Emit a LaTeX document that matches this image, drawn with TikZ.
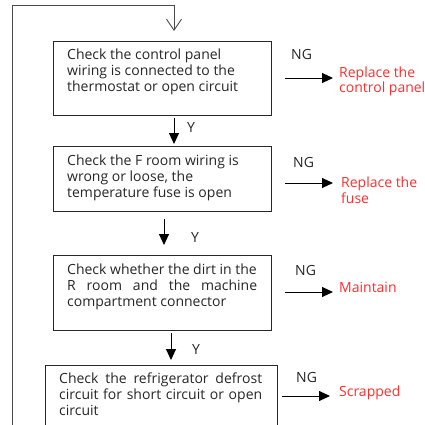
\documentclass[tikz,border=0pt]{standalone}
\usepackage{fontspec}
\setmainfont{Open Sans}
\usetikzlibrary{arrows.meta}
\definecolor{ngred}{RGB}{255,45,45}
\definecolor{ln}{RGB}{40,40,40}
\begin{document}
\begin{tikzpicture}[x=1pt,y=-1pt,
  font=\fontsize{14}{16}\selectfont,
  box/.style={draw=ln,line width=0.9pt,inner sep=0pt,anchor=north west},
  txt/.style={anchor=base west,inner sep=0pt,align=left,text=black!85},
  red/.style={anchor=base west,inner sep=0pt,align=left,text=ngred},
  lab/.style={anchor=base west,inner sep=0pt,text=black!85},
  arr/.style={line width=0.9pt,draw=black,-{Triangle[length=11pt,width=10pt]}},
  loopline/.style={line width=0.9pt,draw=black!70}]
\useasboundingbox (0,0) rectangle (424,425);
\begin{scope}
\clip (0,0) rectangle (424,425);
% boxes
\node[box,minimum width=218pt,minimum height=74pt] (b1) at (53,41) {};
\node[box,minimum width=218pt,minimum height=65pt] (b2) at (53,146) {};
\node[box,minimum width=218pt,minimum height=75pt] (b3) at (53,255) {};
\node[box,minimum width=232pt,minimum height=80pt] (b4) at (45,365) {};
% loop
\coordinate (lb) at (12,440);
\coordinate (lt) at (12,5);
\coordinate (rt) at (174,5);
\coordinate (rb) at (174,31);
\draw[loopline,-{Straight Barb[length=11pt,width=15pt,line width=0.9pt]}] (lb) -- (lt) -- (rt) -- (rb);
% box texts (anchored at last line baseline)
\node[txt] (t1) at (67,92) {Check the control panel\\wiring is connected to the\\thermostat or open circuit};
\node[txt] (t2) at (67,197) {Check the F room wiring is\\wrong or loose, the\\temperature fuse is open};
\node[txt] (t3) at (67,306) {Check whether the dirt in the\\\makebox[190pt][s]{R room and the machine}\\compartment connector};
\node[txt] (t4) at (59,415) {\makebox[203pt][s]{Check the refrigerator defrost}\\\makebox[203pt][s]{circuit for short circuit or open}\\circuit};
% results
\node[red] (r1) at (339,93) {Replace the\\control panel};
\end{scope}
% Y arrows
\coordinate (y1s) at (174,118); \coordinate (y1e) at (174,144);
\coordinate (y2s) at (164,219); \coordinate (y2e) at (164,245);
\coordinate (y3s) at (171,333); \coordinate (y3e) at (171,360);
\draw[arr] (y1s) -- (y1e);
\draw[arr] (y2s) -- (y2e);
\draw[arr] (y3s) -- (y3e);
\node[lab] (ly1) at (187,132) {Y};
\node[lab] (ly2) at (191,242) {Y};
\node[lab] (ly3) at (192,354) {Y};
% NG arrows
\coordinate (n1s) at (285,78); \coordinate (n1e) at (333,78);
\coordinate (n2s) at (285,183); \coordinate (n2e) at (333,183);
\coordinate (n3s) at (285,292); \coordinate (n3e) at (333,292);
\coordinate (n4s) at (282,396); \coordinate (n4e) at (330,396);
\draw[arr] (n1s) -- (n1e);
\draw[arr] (n2s) -- (n2e);
\draw[arr] (n3s) -- (n3e);
\draw[arr] (n4s) -- (n4e);
\node[lab] (ng1) at (291,60) {NG};
\node[lab] (ng2) at (293,167) {NG};
\node[lab] (ng3) at (295,275) {NG};
\node[lab] (ng4) at (296,382) {NG};
% results
\node[red] (r2) at (341,203) {Replace the\\fuse};
\node[red] (r3) at (339,292) {Maintain};
\node[red] (r4) at (339,396) {Scrapped};
\end{tikzpicture}
\end{document}
